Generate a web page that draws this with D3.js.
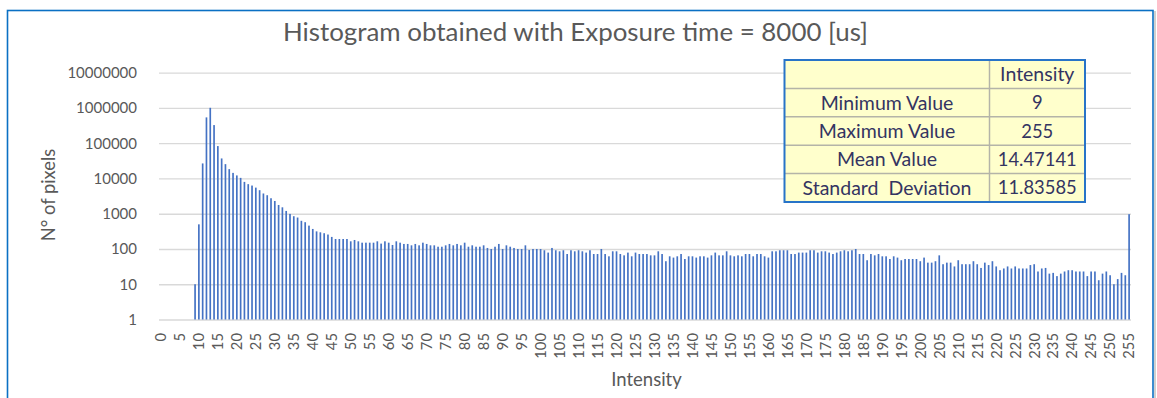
<!DOCTYPE html>
<html>
<head>
<meta charset="utf-8">
<script src="https://cdn.jsdelivr.net/npm/d3@7"></script>
<style>
  body { margin: 0; background: #fff; }
  text { font-family: Lato, "Open Sans", sans-serif; }
</style>
</head>
<body>
<svg id="chart" width="1157" height="398"></svg>
<script>
// Intensity bins 0..255
const intensities = d3.range(0, 256);

// Number of pixels per intensity bin
const pixelCounts = [
  0, 0, 0, 0, 0, 0, 0, 0, 0, 10, 500, 26700, 540000, 1010000, 327000, 83000,
  37000, 25500, 18400, 14400, 12200, 10400, 8000, 6900, 6300, 5500, 4650, 3750, 3350, 2750, 2300, 1770,
  1520, 1200, 990, 850, 780, 630, 575, 460, 370, 316, 297, 280, 257, 220, 192, 192,
  192, 192, 165, 180, 165, 151, 151, 151, 151, 165, 142, 165, 151, 130, 165, 151,
  139, 139, 127, 139, 127, 151, 139, 127, 127, 116, 116, 127, 139, 127, 139, 127,
  151, 116, 127, 116, 116, 127, 107, 100, 116, 139, 100, 127, 116, 107, 100, 100,
  127, 94, 100, 100, 100, 92, 79, 107, 92, 86, 92, 72, 92, 86, 92, 86,
  79, 92, 72, 72, 100, 72, 62, 86, 86, 72, 66, 79, 62, 79, 72, 72,
  72, 66, 66, 86, 72, 45, 62, 57, 62, 72, 52, 62, 62, 57, 62, 62,
  57, 66, 79, 66, 66, 86, 66, 62, 66, 62, 72, 72, 62, 72, 72, 62,
  57, 86, 86, 92, 92, 92, 72, 72, 79, 79, 79, 92, 92, 79, 86, 86,
  79, 72, 79, 86, 92, 86, 92, 100, 72, 72, 48, 72, 66, 72, 62, 62,
  52, 62, 57, 48, 52, 52, 52, 52, 45, 57, 41, 41, 45, 66, 37, 41,
  41, 32, 48, 37, 37, 37, 45, 37, 29, 41, 35, 45, 32, 25, 28, 32,
  28, 32, 28, 28, 28, 35, 37, 23, 28, 29, 20, 21, 17, 20, 23, 25,
  25, 23, 23, 23, 17, 23, 23, 13, 20, 23, 18, 10, 14, 21, 18, 970
];

// Axis ticks
const yTickValues = [1, 10, 100, 1000, 10000, 100000, 1000000, 10000000];
const xTickValues = intensities.filter(d => d % 5 === 0);

// Statistics table
const statHeader = "Intensity";
const statNames = ["Minimum Value", "Maximum Value", "Mean Value", "Standard  Deviation"];
const statValues = ["9", "255", "14.47141", "11.83585"];

const titleText = "Histogram obtained with Exposure time = 8000 [us]";
const xTitle = "Intensity";
const yTitle = "N° of pixels";

const svg = d3.select("#chart");
const textGray = "#595959";
const gridGray = "#d9d9d9";
const barBlue = "#4472c4";

// Chart frame
svg.append("line").attr("x1", 1155).attr("x2", 1155).attr("y1", 11).attr("y2", 398)
  .attr("stroke", "#d0d0d0").attr("stroke-width", 2);
svg.append("rect").attr("x", 7.5).attr("y", 10.5).attr("width", 1145.5).attr("height", 400)
  .attr("fill", "none").attr("stroke", "#0a70c4").attr("stroke-width", 1.6);

const plot = { left: 159, right: 1131, top: 72.7, bottom: 319.5 };

const x = d3.scaleBand().domain(intensities).range([plot.left, plot.right])
  .paddingInner(0.56).paddingOuter(0.28);
const y = d3.scaleLog().domain([1, 1e7]).range([plot.bottom, plot.top]);

// Gridlines
svg.append("g")
  .attr("transform", `translate(${plot.left},0)`)
  .call(d3.axisLeft(y).tickValues(yTickValues).tickSize(-(plot.right - plot.left)).tickFormat(""))
  .call(g => g.select(".domain").remove())
  .call(g => g.selectAll("line").attr("stroke", gridGray).attr("stroke-width", 1.3));

// Y tick labels
svg.append("g")
  .attr("transform", `translate(137,0)`)
  .call(d3.axisLeft(y).tickValues(yTickValues).tickSize(0).tickPadding(0).tickFormat(d3.format("d")))
  .call(g => g.select(".domain").remove())
  .call(g => g.selectAll("text").attr("fill", textGray).style("font-size", "15px").style("font-family", "Lato, sans-serif"));

// Bars
svg.append("g").selectAll("rect")
  .data(intensities.filter(i => pixelCounts[i] > 0))
  .join("rect")
  .attr("x", i => x(i))
  .attr("width", x.bandwidth())
  .attr("y", i => y(pixelCounts[i]))
  .attr("height", i => y(1) - y(pixelCounts[i]))
  .attr("fill", barBlue);

// X tick labels, rotated
svg.append("g")
  .attr("transform", `translate(0,${plot.bottom})`)
  .call(d3.axisBottom(x).tickValues(xTickValues).tickSize(0).tickFormat(d3.format("d")))
  .call(g => g.select(".domain").remove())
  .call(g => g.selectAll("text")
    .attr("transform", "rotate(-90)")
    .attr("x", -13.5).attr("y", 0).attr("dy", "0.36em")
    .attr("text-anchor", "end")
    .attr("fill", textGray)
    .style("font-size", "14.8px").style("font-family", "Lato, sans-serif"));

// Titles
svg.append("text").attr("x", 575.5).attr("y", 40.5).attr("text-anchor", "middle")
  .attr("fill", textGray).style("font-size", "25.9px").text(titleText);
svg.append("text").attr("x", 646.5).attr("y", 386).attr("text-anchor", "middle")
  .attr("fill", textGray).style("font-size", "18.5px").text(xTitle);
svg.append("text").attr("transform", "translate(54.5,195) rotate(-90)").attr("text-anchor", "middle")
  .attr("fill", textGray).style("font-size", "18.3px").text(yTitle);

// Statistics table
const tbl = { left: 784.5, right: 1085, top: 60, bottom: 202, split: 989.5 };
const rowH = (tbl.bottom - tbl.top) / (statNames.length + 1);
const tg = svg.append("g");
tg.append("rect").attr("x", tbl.left).attr("y", tbl.top)
  .attr("width", tbl.right - tbl.left).attr("height", tbl.bottom - tbl.top)
  .attr("fill", "#ffffcc");
tg.selectAll("line.row").data(d3.range(1, statNames.length + 1)).join("line")
  .attr("x1", tbl.left).attr("x2", tbl.right)
  .attr("y1", r => tbl.top + r * rowH).attr("y2", r => tbl.top + r * rowH)
  .attr("stroke", "#b4b4a8").attr("stroke-width", 1.5);
tg.append("line").attr("x1", tbl.split).attr("x2", tbl.split).attr("y1", tbl.top).attr("y2", tbl.bottom)
  .attr("stroke", "#b4b4a8").attr("stroke-width", 1.5);
tg.append("rect").attr("x", tbl.left).attr("y", tbl.top)
  .attr("width", tbl.right - tbl.left).attr("height", tbl.bottom - tbl.top)
  .attr("fill", "none").attr("stroke", "#2874c8").attr("stroke-width", 2);

const cellText = (cx, r, s, size) => tg.append("text")
  .attr("x", cx).attr("y", tbl.top + (r + 0.5) * rowH).attr("dy", "0.36em")
  .attr("text-anchor", "middle").attr("fill", "#343462")
  .style("font-size", size).style("white-space", "pre").text(s);
cellText((tbl.split + tbl.right) / 2, 0, statHeader, "19.5px");
statNames.forEach((s, i) => cellText((tbl.left + tbl.split) / 2, i + 1, s, "19.5px"));
statValues.forEach((s, i) => cellText((tbl.split + tbl.right) / 2, i + 1, s, "18.4px"));
</script>
</body>
</html>
